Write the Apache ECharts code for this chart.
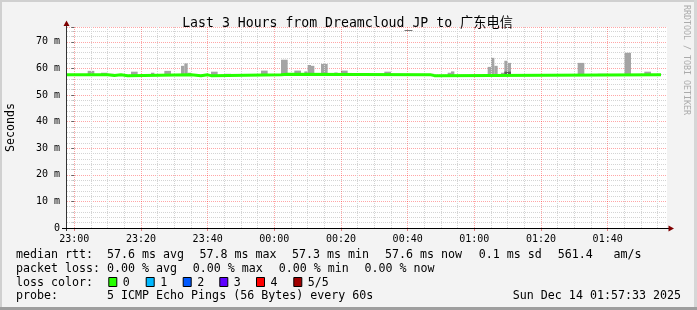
<!DOCTYPE html>
<html><head><meta charset="utf-8">
<script src="https://cdn.jsdelivr.net/npm/echarts@6/dist/echarts.min.js"></script>
<style>html,body{margin:0;padding:0;background:#f3f3f3}#c{width:697px;height:310px}</style>
</head><body><div id="c"></div>
<script>
// x values are minutes relative to 23:00
const xTickValues = [0, 20, 40, 60, 80, 100, 120, 140, 160];
const xTickLabels = ['23:00', '23:20', '23:40', '00:00', '00:20', '00:40', '01:00', '01:20', '01:40'];
const yTickLabels = ['0', '10 m', '20 m', '30 m', '40 m', '50 m', '60 m', '70 m'];

// median rtt (ms), step segments: start minute, value
const medianStart = [-2.2, 10, 12, 14, 16, 35, 38, 40, 41, 62, 64, 107, 108, 176];
const medianValue = [57.6, 57.4, 57.6, 57.3, 57.6, 57.3, 57.6, 57.3, 57.6, 57.8, 57.6, 57.3, 57.6, 57.6];

// smoke (ping spread), light layer: start minute, end minute, top (ms)
const smokeStart = [4, 8, 10, 17, 23, 27, 32, 33, 34, 41, 45, 56, 62, 66, 69, 70, 71, 74, 80, 93, 107, 112, 113, 124, 125, 126, 128, 129, 130, 151, 157, 165, 171];
const smokeEnd   = [6, 10, 12, 19, 24, 29, 33, 34, 35, 43, 47, 58, 64, 68, 70, 71, 72, 76, 82, 95, 108, 113, 114, 125, 126, 127, 129, 130, 131, 153, 160, 167, 173];
const smokeTop   = [59.1, 58.4, 58.0, 58.8, 58.4, 59.1, 61.0, 61.9, 58.4, 58.8, 58.0, 59.2, 63.3, 59.2, 58.9, 61.3, 61.0, 61.7, 59.2, 58.8, 58.0, 58.4, 58.9, 60.6, 64.0, 61.0, 58.4, 62.9, 62.1, 62.1, 58.0, 65.9, 58.8];
const smokeBottom = 57.3;
// darker inner smoke layer
const darkStart = [78, 129];
const darkEnd   = [79, 131];
const darkTop   = [58.4, 58.8];

const lossLabels = ['0', '1', '2', '3', '4', '5/5'];
const lossColors = ['#26ff00', '#00b8ff', '#0059ff', '#5e00ff', '#ff0000', '#a10000'];

const MONO = '"DejaVu Sans Mono", "Noto Sans CJK SC", monospace';

const medianData = medianStart.map((s, i) => [s, medianValue[i]]);
const smokeData = smokeStart.map((s, i) => [s, smokeEnd[i], smokeBottom, smokeTop[i]]);
const darkData = darkStart.map((s, i) => [s, darkEnd[i], 57.6, darkTop[i]]);

function rectSeries(data, color, z) {
  return {
    type: 'custom', z: z, silent: true, animation: false,
    encode: { x: [0, 1], y: [2, 3] },
    data: data,
    renderItem: function (params, api) {
      const p0 = api.coord([api.value(0), api.value(3)]);
      const p1 = api.coord([api.value(1), api.value(2)]);
      return { type: 'rect', shape: { x: p0[0], y: p0[1], width: p1[0] - p0[0], height: p1[1] - p0[1] }, style: { fill: color } };
    }
  };
}

const minorX = [];
for (let v = 0; v <= 175; v += 5) if (v % 20 !== 0) minorX.push({ xAxis: v });

const legendRow1 = [['median rtt:', 16], ['57.6 ms avg', 107], ['57.8 ms max', 199.5], ['57.3 ms min', 292], ['57.6 ms now', 385], ['0.1 ms sd', 478.7], ['561.4', 557.7], ['am/s', 613.4]];
const legendRow2 = [['packet loss:', 16], ['0.00 % avg', 107], ['0.00 % max', 192.8], ['0.00 % min', 278.8], ['0.00 % now', 364.5]];
const swatchX = [108.3, 145.7, 182.7, 219.3, 256, 293.3];

const graphics = [];
function txt(t, x, y, opts) {
  graphics.push(Object.assign({ type: 'text', silent: true, x: x, y: y, style: Object.assign({ text: t, font: '11.65px ' + MONO, fill: '#000', textAlign: 'left', textVerticalAlign: 'middle' }, opts || {}) }));
}
// frame
graphics.push({ type: 'rect', silent: true, z: -10, shape: { x: 0, y: 0, width: 697, height: 310 }, style: { fill: '#f3f3f3' } });
graphics.push({ type: 'rect', silent: true, z: -9, shape: { x: 0, y: 0, width: 697, height: 2 }, style: { fill: '#d0d0d0' } });
graphics.push({ type: 'rect', silent: true, z: -9, shape: { x: 0, y: 0, width: 2, height: 310 }, style: { fill: '#d0d0d0' } });
graphics.push({ type: 'rect', silent: true, z: -9, shape: { x: 694, y: 0, width: 3, height: 310 }, style: { fill: '#d6d6d6' } });
graphics.push({ type: 'rect', silent: true, z: -9, shape: { x: 0, y: 307, width: 697, height: 3 }, style: { fill: '#9e9e9e' } });

txt('Last 3 Hours from Dreamcloud_JP to 广东电信', 347.5, 23.3, { font: '13.2px ' + MONO, textAlign: 'center' });
graphics.push({ type: 'text', silent: true, x: 10.5, y: 127.5, rotation: Math.PI / 2, style: { text: 'Seconds', font: '11.65px ' + MONO, fill: '#000', textAlign: 'center', textVerticalAlign: 'middle' } });
graphics.push({ type: 'text', silent: true, x: 686.5, y: 60, rotation: -Math.PI / 2, style: { text: 'RRDTOOL / TOBI OETIKER', font: '8.3px ' + MONO, fill: '#ababab', textAlign: 'center', textVerticalAlign: 'middle' } });

// axis extensions and arrows
graphics.push({ type: 'line', silent: true, z: 50, shape: { x1: 66.5, y1: 231, x2: 66.5, y2: 24 }, style: { stroke: '#333', lineWidth: 1 } });
graphics.push({ type: 'line', silent: true, z: 50, shape: { x1: 62, y1: 228.5, x2: 670, y2: 228.5 }, style: { stroke: '#000', lineWidth: 1 } });
graphics.push({ type: 'polygon', silent: true, z: 51, shape: { points: [[66.5, 20.5], [63.5, 26], [69.5, 26]] }, style: { fill: '#7f0000' } });
graphics.push({ type: 'polygon', silent: true, z: 51, shape: { points: [[674, 228.5], [668.5, 225.5], [668.5, 231.5]] }, style: { fill: '#7f0000' } });

legendRow1.forEach(r => txt(r[0], r[1], 254.8));
legendRow2.forEach(r => txt(r[0], r[1], 268.7));
txt('loss color:', 16, 282.5);
lossLabels.forEach((l, i) => {
  graphics.push({ type: 'rect', silent: true, shape: { x: swatchX[i] + 0.5, y: 277.5, width: 8, height: 9 }, style: { fill: lossColors[i], stroke: '#000', lineWidth: 1 } });
  txt(l, swatchX[i] + 14.5, 282.5);
});
txt('probe:', 16, 296.4);
txt('5 ICMP Echo Pings (56 Bytes) every 60s', 107, 296.4);
txt('Sun Dec 14 01:57:33 2025', 681, 296.4, { textAlign: 'right' });

const chart = echarts.init(document.getElementById('c'), null, { renderer: 'canvas' });
chart.setOption({
  animation: false,
  backgroundColor: '#f3f3f3',
  grid: { left: 67, top: 27, width: 600, height: 201, show: true, backgroundColor: '#ffffff', borderWidth: 0 },
  xAxis: {
    type: 'value', min: -2.2, max: 177.8,
    axisLine: { show: false },
    splitLine: { show: false },
    axisTick: { show: true, customValues: xTickValues, length: 3, lineStyle: { color: '#e08080' } },
    axisLabel: {
      customValues: xTickValues, margin: 6,
      formatter: v => xTickLabels[xTickValues.indexOf(Math.round(v))] || '',
      fontFamily: MONO, fontSize: 10, color: '#000'
    }
  },
  yAxis: {
    type: 'value', min: 0, max: 75.6, interval: 10,
    axisLine: { show: false },
    axisTick: { show: true, length: 3, lineStyle: { color: '#666' } },
    minorTick: { show: true, splitNumber: 5, length: 2, lineStyle: { color: '#bbb' } },
    splitLine: { show: true, lineStyle: { color: 'rgba(255,0,0,0.35)', type: [1, 1], width: 1 } },
    minorSplitLine: { show: true, lineStyle: { color: '#d4d4d4', type: [1, 1], width: 1 } },
    axisLabel: {
      margin: 7, showMaxLabel: false, padding: [3, 0, 0, 0],
      formatter: v => { const i = Math.round(v / 10); return (Math.abs(v - i * 10) < 1e-6 && i < yTickLabels.length) ? yTickLabels[i] : ''; },
      fontFamily: MONO, fontSize: 10, color: '#000'
    }
  },
  graphic: { elements: graphics },
  series: [
    {
      type: 'line', z: 1, silent: true, data: [], symbol: 'none',
      markLine: { silent: true, symbol: ['none', 'none'], label: { show: false }, animation: false,
        lineStyle: { color: '#d4d4d4', type: [1, 1], width: 1 }, data: minorX }
    },
    {
      type: 'line', z: 1, silent: true, data: [], symbol: 'none',
      markLine: { silent: true, symbol: ['none', 'none'], label: { show: false }, animation: false,
        lineStyle: { color: 'rgba(255,0,0,0.35)', type: [1, 1], width: 1 }, data: xTickValues.map(v => ({ xAxis: v })) }
    },
    rectSeries(smokeData, '#a4a4a4', 3),
    rectSeries(darkData, '#5c5c5c', 4),
    {
      type: 'line', z: 5, silent: true, data: medianData, step: 'end', symbol: 'none',
      lineStyle: { color: '#26ff00', width: 3 }
    }
  ]
});
</script>
</body></html>
